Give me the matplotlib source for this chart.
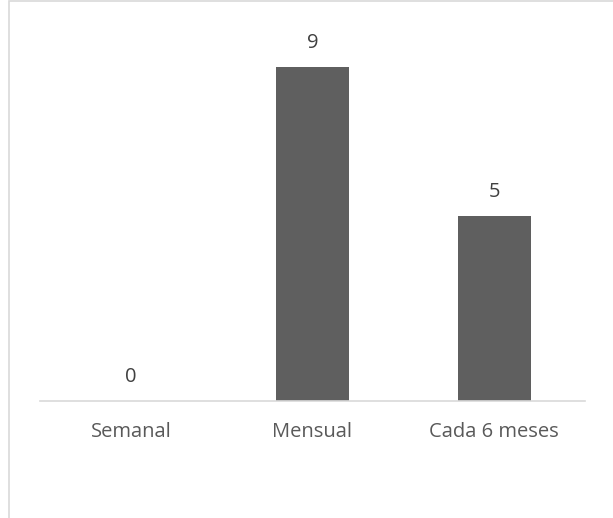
import matplotlib.pyplot as plt
from matplotlib.patches import Rectangle

categorias = ['Semanal', 'Mensual', 'Cada 6 meses']
valores = [0, 9, 5]

plt.rcParams['font.family'] = ['Open Sans', 'DejaVu Sans']

fig = plt.figure(figsize=(6.13, 5.18), dpi=100)
ax = fig.add_axes([40 / 613, 117 / 518, 545 / 613, 371 / 518])

# marco gris del área del gráfico
fig.patches.append(Rectangle((9 / 613, -0.1), 1.2, 1.1 - 1 / 518,
                             transform=fig.transFigure, fill=False,
                             edgecolor='#d9d9d9', linewidth=1.2))

x = range(len(categorias))
barras = ax.bar(x, valores, width=0.4, color='#5f5f5f')
for b, v in zip(barras, valores):
    ax.annotate(str(v), (b.get_x() + b.get_width() / 2, v),
                xytext=(0, 10), textcoords='offset points',
                ha='center', va='bottom', fontsize=14.5, color='#404040')

ax.set_xlim(-0.5, 2.5)
ax.set_ylim(0, 10)
ax.set_xticks(list(x))
ax.set_xticklabels(categorias, fontsize=14.5, color='#595959')
ax.tick_params(axis='x', length=0, pad=15)
ax.set_yticks([])
for lado in ['top', 'left', 'right']:
    ax.spines[lado].set_visible(False)
ax.spines['bottom'].set_color('#d9d9d9')
ax.spines['bottom'].set_linewidth(1.2)

fig.savefig('out.png', dpi=100)
